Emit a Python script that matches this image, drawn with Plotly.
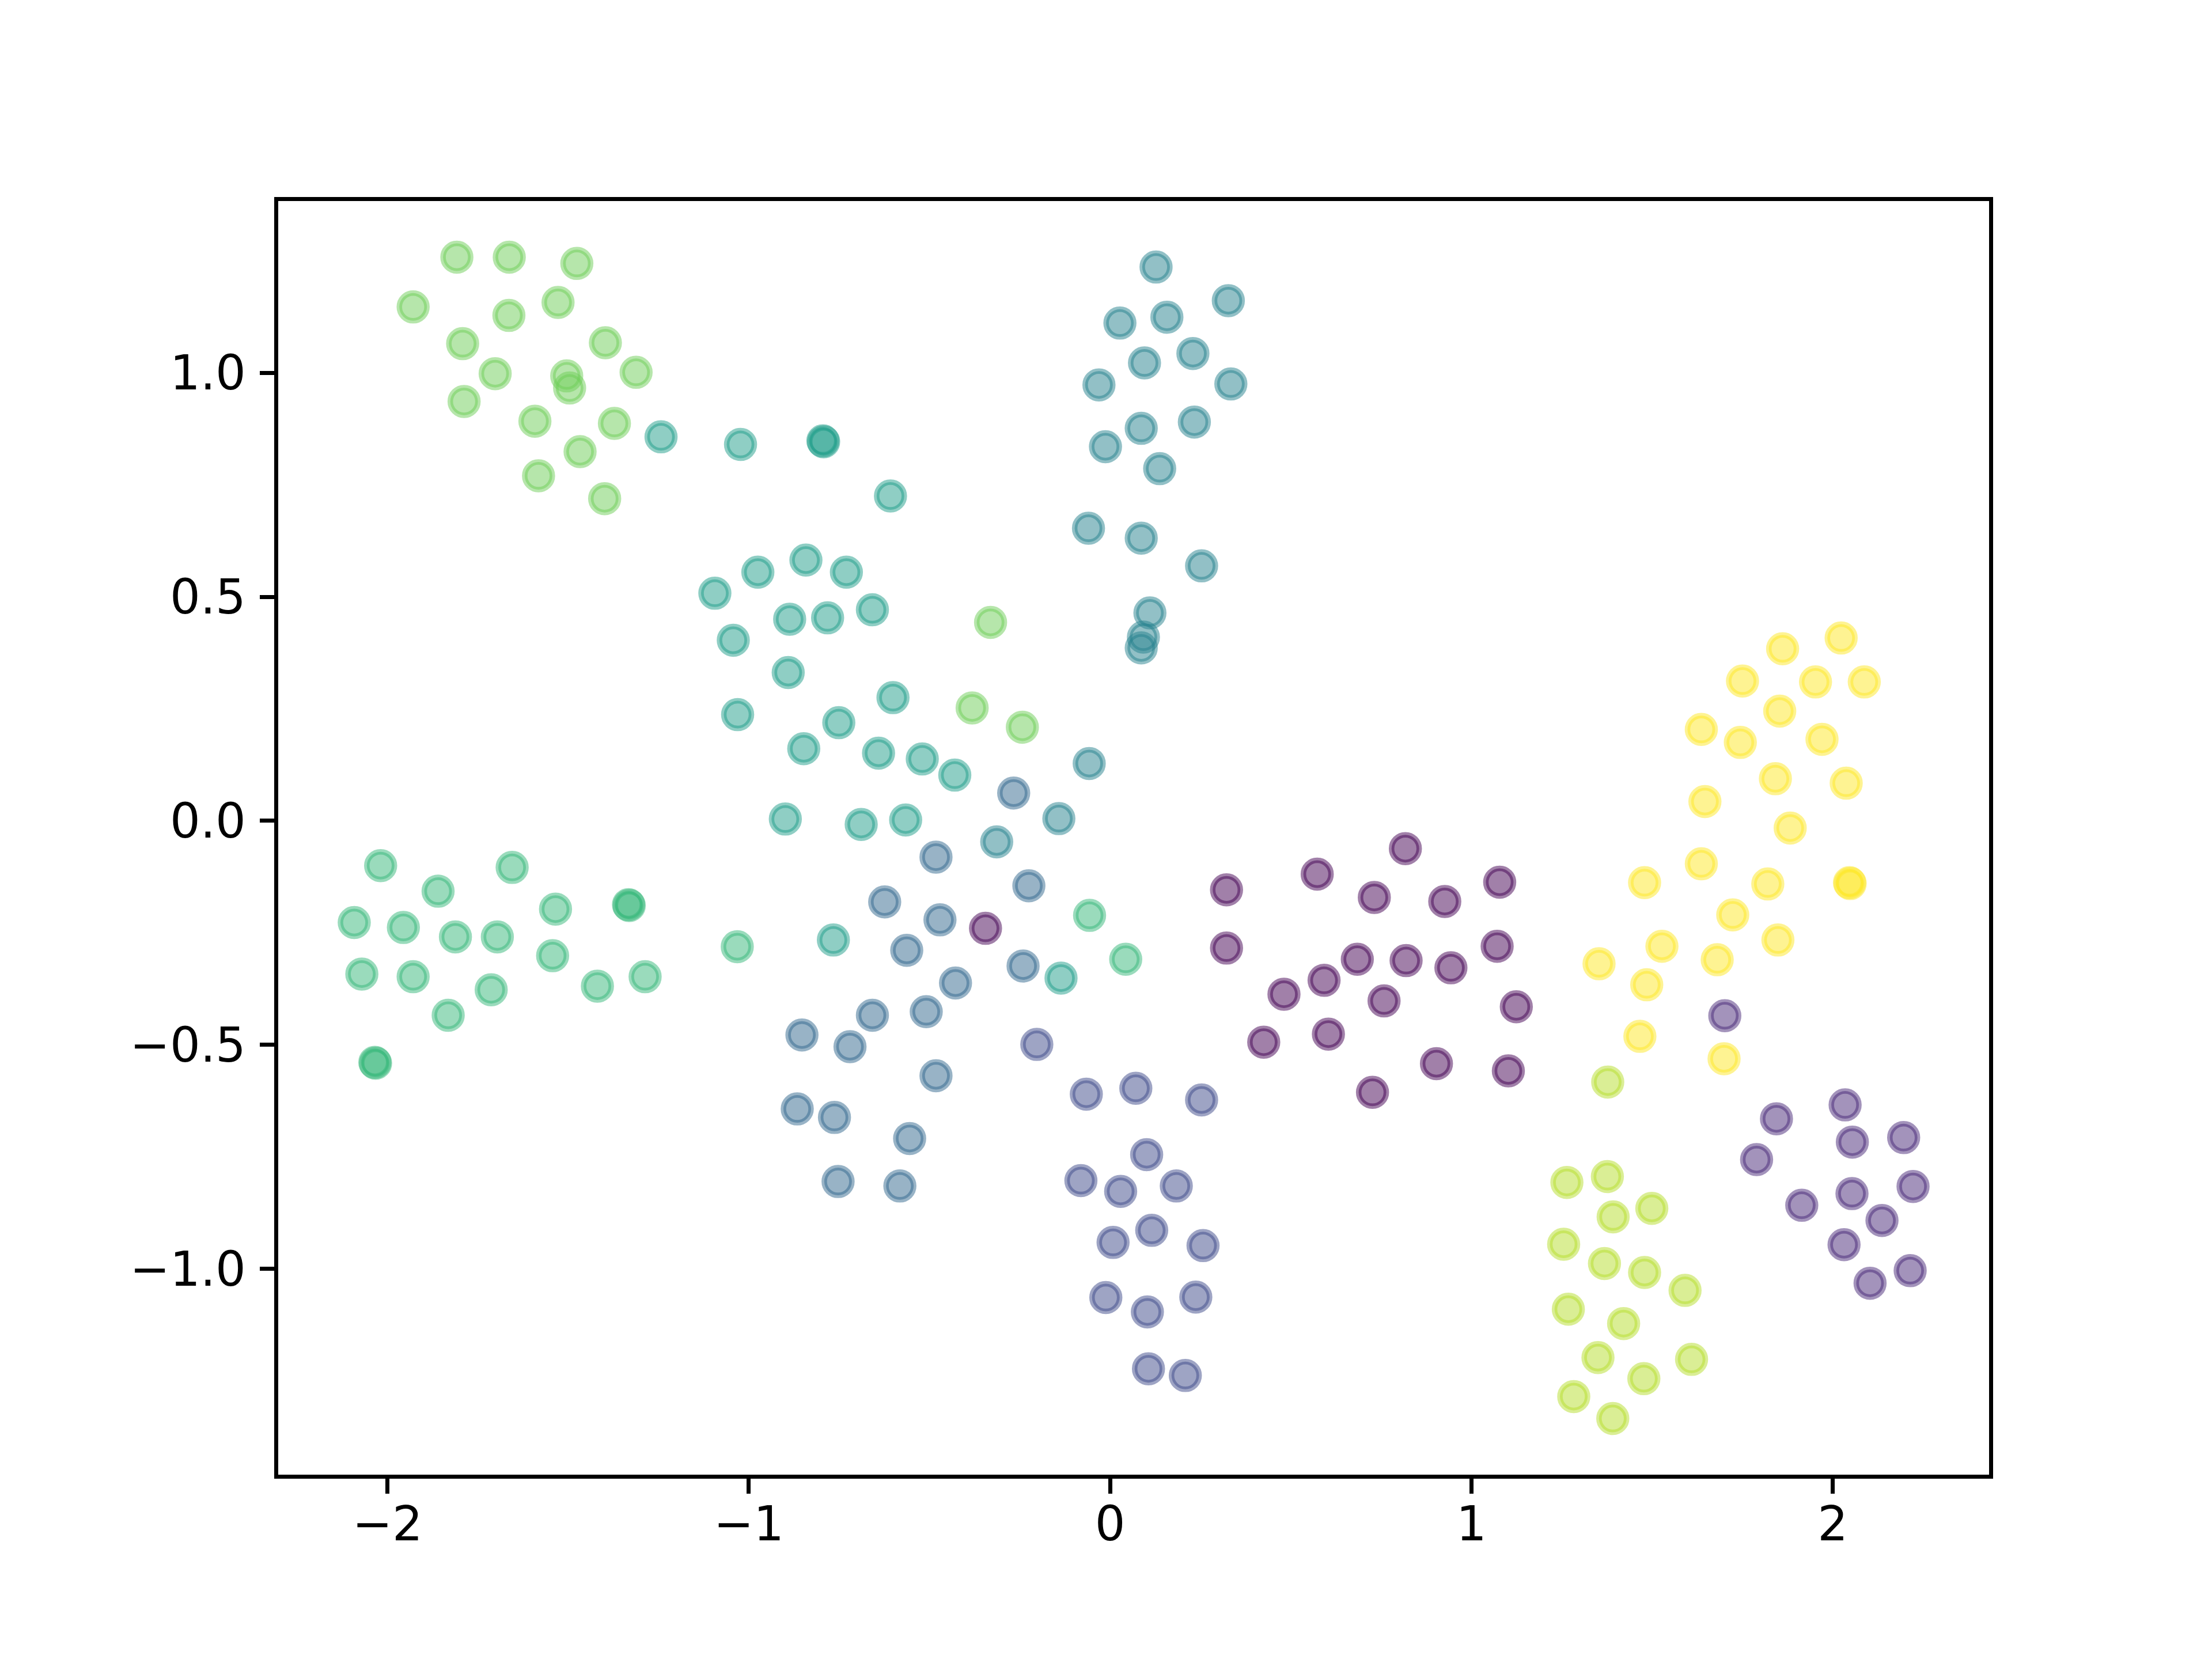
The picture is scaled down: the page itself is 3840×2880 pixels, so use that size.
import plotly.graph_objects as go

# ---- data: points, grouped by class label (0..9) ----
x_c0 = [0.817, 0.573, 0.322, 0.731, 0.926, 1.078, 0.322, 0.684, 0.819, 0.943, 1.071,
        0.592, 0.481, 0.758, 1.124, 0.425, 0.604, 0.726, 0.903, 1.102, -0.345]
y_c0 = [-0.062, -0.119, -0.154, -0.171, -0.180, -0.137, -0.284, -0.309, -0.312, -0.328, -0.280,
        -0.356, -0.387, -0.402, -0.415, -0.494, -0.476, -0.606, -0.542, -0.558, -0.240]

x_c1 = [1.844, 2.034, 1.789, 2.054, 2.196, 1.914, 2.053, 2.222, 2.136, 2.031, 2.103, 2.214, 1.701]
y_c1 = [-0.665, -0.634, -0.756, -0.717, -0.707, -0.858, -0.832, -0.816, -0.892, -0.946, -1.032, -1.004, -0.435]

x_c2 = [-0.203, -0.066, 0.071, 0.253, 0.101, -0.081, 0.029, 0.183, 0.008, 0.115, 0.257,
        -0.012, 0.237, 0.103, 0.106, 0.208]
y_c2 = [-0.499, -0.610, -0.597, -0.623, -0.745, -0.803, -0.827, -0.815, -0.941, -0.914, -0.948,
        -1.064, -1.063, -1.096, -1.223, -1.238]

x_c3 = [-0.267, -0.482, -0.225, -0.624, -0.471, -0.563, -0.241, -0.428, -0.658, -0.509,
        -0.853, -0.720, -0.482, -0.866, -0.763, -0.555, -0.753, -0.582]
y_c3 = [0.062, -0.081, -0.145, -0.181, -0.221, -0.289, -0.324, -0.362, -0.434, -0.426,
        -0.478, -0.504, -0.569, -0.643, -0.662, -0.709, -0.805, -0.815]

x_c4 = [0.127, 0.327, 0.157, 0.027, 0.229, 0.095, 0.334, -0.031, 0.233, 0.086, -0.013,
        0.137, -0.060, 0.086, 0.253, 0.110, 0.092, 0.086, -0.058, -0.142, -0.314]
y_c4 = [1.236, 1.161, 1.124, 1.111, 1.043, 1.022, 0.975, 0.973, 0.890, 0.876, 0.835,
        0.786, 0.653, 0.631, 0.569, 0.464, 0.410, 0.386, 0.128, 0.005, -0.047]

x_c5 = [-1.243, -1.023, -0.795, -0.793, -0.608, -0.975, -0.842, -0.730, -1.094, -0.887,
        -0.782, -0.658, -1.043, -0.891, -1.031, -0.601, -0.751, -0.848, -0.641, -0.520,
        -0.430, -0.899, -0.689, -0.566, -0.766, -0.136]
y_c5 = [0.857, 0.840, 0.848, 0.846, 0.725, 0.555, 0.582, 0.555, 0.508, 0.450,
        0.453, 0.471, 0.403, 0.331, 0.237, 0.275, 0.219, 0.161, 0.151, 0.138,
        0.102, 0.004, -0.008, 0.002, -0.266, -0.351]

x_c6 = [-2.019, -1.655, -1.860, -1.535, -1.333, -1.331, -2.092, -1.956, -1.812, -1.696,
        -1.543, -2.071, -1.929, -1.713, -1.419, -1.287, -1.832, -2.035, -2.033, -1.032,
        -0.057, 0.043]
y_c6 = [-0.100, -0.104, -0.157, -0.197, -0.187, -0.189, -0.227, -0.238, -0.259, -0.259,
        -0.301, -0.342, -0.348, -0.377, -0.369, -0.348, -0.434, -0.539, -0.541, -0.281,
        -0.211, -0.309]

x_c7 = [-1.808, -1.663, -1.476, -1.929, -1.664, -1.528, -1.792, -1.397, -1.702, -1.504,
        -1.496, -1.312, -1.788, -1.592, -1.372, -1.467, -1.582, -1.399, -0.331, -0.382, -0.243]
y_c7 = [1.258, 1.258, 1.244, 1.147, 1.128, 1.157, 1.065, 1.067, 0.998, 0.993,
        0.966, 1.001, 0.936, 0.892, 0.887, 0.824, 0.770, 0.719, 0.443, 0.252, 0.209]

x_c8 = [1.377, 1.264, 1.376, 1.392, 1.499, 1.255, 1.368, 1.479, 1.591, 1.268,
        1.421, 1.350, 1.609, 1.477, 1.283, 1.391]
y_c8 = [-0.583, -0.807, -0.794, -0.884, -0.865, -0.945, -0.988, -1.008, -1.048, -1.090,
        -1.122, -1.198, -1.202, -1.245, -1.285, -1.334]

x_c9 = [2.023, 1.861, 1.750, 1.952, 2.087, 1.853, 1.636, 1.744, 1.970, 1.841, 2.037,
        1.646, 1.882, 1.636, 1.479, 1.820, 2.046, 2.048, 1.723, 1.848, 1.527, 1.353,
        1.680, 1.485, 1.466, 1.699]
y_c9 = [0.408, 0.384, 0.312, 0.310, 0.310, 0.245, 0.204, 0.175, 0.182, 0.094, 0.084,
        0.043, -0.016, -0.096, -0.138, -0.141, -0.138, -0.140, -0.210, -0.266, -0.280, -0.319,
        -0.310, -0.366, -0.481, -0.531]

x_tick_vals = [-2, -1, 0, 1, 2]
x_tick_text = ["\u22122", "\u22121", "0", "1", "2"]
y_tick_vals = [1.0, 0.5, 0.0, -0.5, -1.0]
y_tick_text = ["1.0", "0.5", "0.0", "\u22120.5", "\u22121.0"]

# ---- styling ----
viridis10 = ["#440154", "#482878", "#3e4989", "#31688e", "#26828e",
             "#1f9e89", "#35b779", "#6ece58", "#b5de2b", "#fde725"]
ALPHA = 0.5


def rgba(hexcol, a):
    h = hexcol.lstrip("#")
    return "rgba(%d,%d,%d,%g)" % (int(h[0:2], 16), int(h[2:4], 16), int(h[4:6], 16), a)


xs_groups = [x_c0, x_c1, x_c2, x_c3, x_c4, x_c5, x_c6, x_c7, x_c8, x_c9]
ys_groups = [y_c0, y_c1, y_c2, y_c3, y_c4, y_c5, y_c6, y_c7, y_c8, y_c9]

xs, ys, cols = [], [], []
for lab, (gx, gy) in enumerate(zip(xs_groups, ys_groups)):
    xs.extend(gx)
    ys.extend(gy)
    cols.extend([rgba(viridis10[lab], ALPHA)] * len(gx))

fig = go.Figure()
fig.add_trace(go.Scatter(
    x=xs, y=ys, mode="markers",
    marker=dict(symbol="circle", size=48, color=cols,
                line=dict(color=cols, width=9.5)),
    hoverinfo="skip", showlegend=False,
))

W, H = 3840, 2880
BODY = 8  # default page margin of the html body
LW = 6.67
INSET = LW / 2  # plotly draws axis lines outside the plot area; center them on the edge

# axes box in matplotlib default layout
L, R, T, B = 480.0, 384.0, 345.6, 316.8
PW, PH = W - L - R, H - T - B

# matplotlib-style 5% margins around data extent
xmin, xmax = min(xs), max(xs)
ymin, ymax = min(ys), max(ys)
x0, x1 = xmin - (xmax - xmin) * 0.05, xmax + (xmax - xmin) * 0.05
y0, y1 = ymin - (ymax - ymin) * 0.05, ymax + (ymax - ymin) * 0.05
ux = (x1 - x0) / PW
uy = (y1 - y0) / PH
x_range = [x0 + INSET * ux, x1 - INSET * ux]
y_range = [y0 + INSET * uy, y1 - INSET * uy]

font = dict(family="DejaVu Sans", size=83, color="black")

axis_common = dict(
    showgrid=False, zeroline=False, showline=True, mirror=True,
    linecolor="black", linewidth=LW, ticks="outside", ticklen=29 - INSET,
    tickwidth=LW, tickcolor="black", tickfont=font,
)

fig.update_layout(
    width=W, height=H,
    margin=dict(l=L + INSET - BODY, r=R + INSET + BODY,
                t=T + INSET - BODY, b=B + INSET + BODY, pad=0),
    paper_bgcolor="white", plot_bgcolor="white",
    xaxis=dict(range=x_range, tickvals=x_tick_vals,
               ticktext=x_tick_text, ticklabelstandoff=-18, **axis_common),
    yaxis=dict(range=y_range, tickvals=y_tick_vals,
               ticktext=y_tick_text, ticklabelstandoff=7, **axis_common),
    font=font,
)

fig.write_html("out.html")
